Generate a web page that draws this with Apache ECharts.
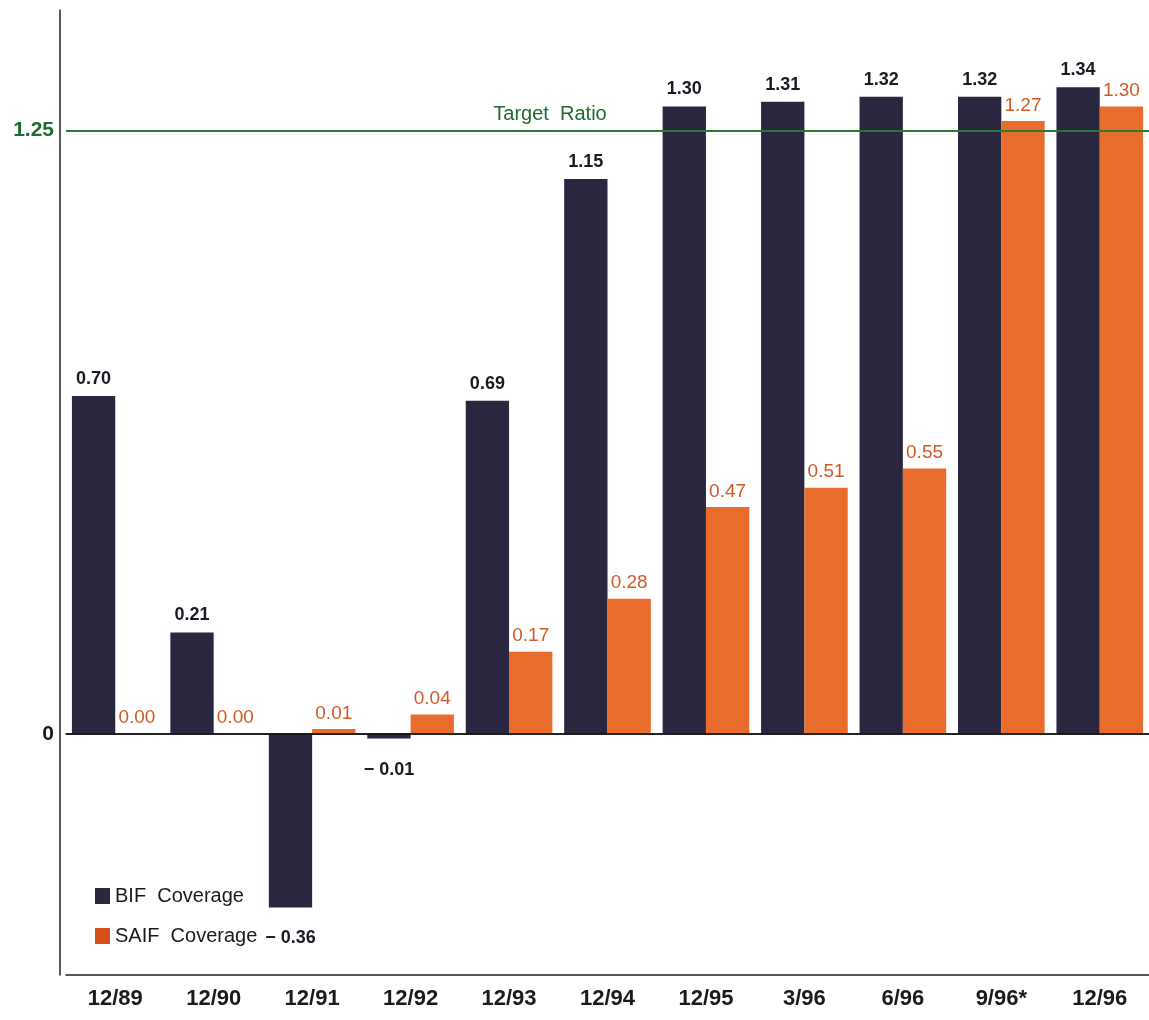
<!DOCTYPE html>
<html>
<head>
<meta charset="utf-8">
<script src="https://cdn.jsdelivr.net/npm/echarts@6/dist/echarts.min.js"></script>
<style>html,body{margin:0;padding:0;background:#fff}#c{width:1149px;height:1020px}</style>
</head>
<body>
<div id="c"></div>
<script>
const categories = ['12/89','12/90','12/91','12/92','12/93','12/94','12/95','3/96','6/96','9/96*','12/96'];
const bifValues  = [0.70, 0.21, -0.36, -0.01, 0.69, 1.15, 1.30, 1.31, 1.32, 1.32, 1.34];
const saifValues = [0.00, 0.00, 0.01, 0.04, 0.17, 0.28, 0.47, 0.51, 0.55, 1.27, 1.30];
const yTickValues = [0, 1.25];
const targetRatio = 1.25;

const FONT = '"Liberation Sans", Arial, Helvetica, sans-serif';
const chart = echarts.init(document.getElementById('c'), null, {renderer: 'canvas'});
const fmt = v => v < 0 ? '\u2212 ' + Math.abs(v).toFixed(2) : v.toFixed(2);

chart.setOption({
  backgroundColor: '#ffffff',
  animation: false,
  grid: {left: 66, right: 0, top: 10, bottom: 45},
  legend: {
    orient: 'vertical', left: 95, top: 886, padding: 0, itemWidth: 15, itemHeight: 16, itemGap: 20,
    icon: 'rect',
    textStyle: {fontFamily: FONT, fontSize: 20, color: '#1a1a1a', lineHeight: 16},
    data: [{name: 'BIF Coverage'}, {name: 'SAIF Coverage', itemStyle: {color: '#d9501f'}}],
    formatter: n => n.replace(' ', '  ')
  },
  xAxis: [{
    type: 'category', data: categories, position: 'bottom',
    axisLine: {onZero: false, lineStyle: {color: '#222', width: 1.5}},
    axisTick: {show: false},
    axisLabel: {fontFamily: FONT, fontSize: 22, fontWeight: 'bold', color: '#1a1a1a', margin: 13}
  }, {
    type: 'category', data: categories, position: 'top',
    axisLine: {show: true, lineStyle: {color: '#222', width: 1.5}},
    axisTick: {show: false}, axisLabel: {show: false}
  }],
  yAxis: {
    type: 'value', min: -0.5, max: 1.5, offset: 6,
    axisLine: {show: true, lineStyle: {color: '#222', width: 1.5}},
    axisTick: {show: false},
    splitLine: {show: false},
    axisLabel: {
      customValues: yTickValues,
      fontFamily: FONT, fontSize: 21, fontWeight: 'bold', margin: 6,
      formatter: v => v === 0 ? '0' : v.toFixed(2),
      color: v => (Number(v) === 0 ? '#1a1a1a' : '#1d6b2e')
    }
  },
  series: [{
    name: 'BIF Coverage', type: 'bar',
    data: bifValues.map(v => v < 0 ? {value: v, label: {position: 'bottom', distance: 22}} : v),
    barGap: '0%', barCategoryGap: '12%',
    itemStyle: {color: '#2b2640'},
    label: {
      show: true, position: 'top', distance: 8,
      fontFamily: FONT, fontSize: 18, fontWeight: 'bold', color: '#1a1a24',
      formatter: p => fmt(p.value)
    },
    markLine: {
      silent: true, symbol: 'none',
      data: [
        {yAxis: 0, lineStyle: {color: '#111', width: 1.5, type: 'solid'}, label: {show: false}},
        {yAxis: targetRatio, lineStyle: {color: '#2a7a33', width: 2, type: 'solid'},
         label: {show: true, position: 'insideMiddleTop', formatter: 'Target  Ratio',
                 fontFamily: FONT, fontSize: 20, color: '#1d6b2e', padding: [0, 115, 0, 0], distance: 6}}
      ]
    }
  }, {
    name: 'SAIF Coverage', type: 'bar', data: saifValues,
    itemStyle: {color: '#e86c2c'},
    label: {
      show: true, position: 'top', distance: 6,
      fontFamily: FONT, fontSize: 19, color: '#cf5a26',
      formatter: p => fmt(p.value)
    }
  }]
});
</script>
</body>
</html>
